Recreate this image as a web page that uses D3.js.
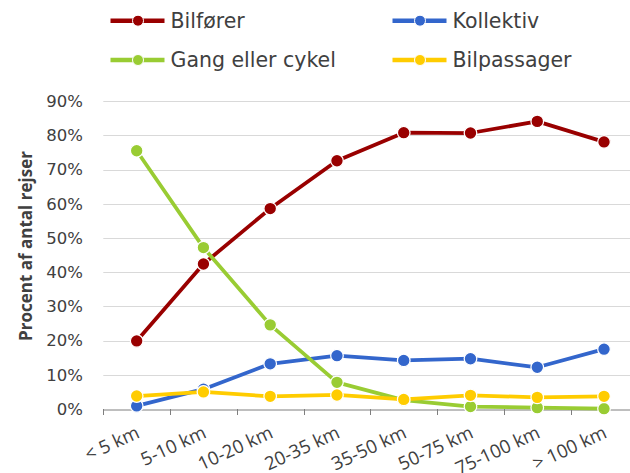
<!DOCTYPE html>
<html>
<head>
<meta charset="utf-8">
<script src="https://cdn.jsdelivr.net/npm/d3@7"></script>
<style>
  html, body { margin: 0; padding: 0; background: #fff; }
  svg { display: block; }
</style>
</head>
<body>
<script>
const categories = ["< 5 km", "5-10 km", "10-20 km", "20-35 km", "35-50 km", "50-75 km", "75-100 km", "> 100 km"];
const bilforer    = [19.9, 42.4, 58.6, 72.6, 80.8, 80.7, 84.1, 78.1];
const kollektiv   = [0.9, 5.8, 13.2, 15.6, 14.2, 14.7, 12.2, 17.5];
const gangCykel   = [75.5, 47.2, 24.6, 7.8, 2.6, 0.7, 0.4, 0.1];
const bilpassager = [3.8, 5.0, 3.7, 4.1, 2.8, 4.0, 3.4, 3.7];
const yTicks = [0, 10, 20, 30, 40, 50, 60, 70, 80, 90];
const seriesNames = ["Bilfører", "Kollektiv", "Gang eller cykel", "Bilpassager"];

const series = [
  { name: seriesNames[0], values: bilforer,    color: "#990000" },
  { name: seriesNames[1], values: kollektiv,   color: "#3366cc" },
  { name: seriesNames[2], values: gangCykel,   color: "#99cc33" },
  { name: seriesNames[3], values: bilpassager, color: "#ffcc00" }
];

const W = 630, H = 473;
const svg = d3.select("body").append("svg").attr("width", W).attr("height", H);

const x = d3.scaleBand().domain(categories).range([103.3, 637.4]).padding(0);
const y = d3.scaleLinear().domain([0, 90]).range([409, 101.2]);

// gridlines
svg.append("g").selectAll("line").data(yTicks.filter(d => d > 0)).join("line")
  .attr("x1", 103.3).attr("x2", 630)
  .attr("y1", d => Math.round(y(d)) + 0.5).attr("y2", d => Math.round(y(d)) + 0.5)
  .attr("stroke", "#d9d9d9").attr("stroke-width", 1);

// y axis labels
const yAxis = d3.axisLeft(y).tickValues(yTicks).tickFormat(d => d + "%").tickSize(0).tickPadding(0);
const gy = svg.append("g").attr("transform", "translate(83,0)").call(yAxis);
gy.select(".domain").remove();
gy.selectAll("text").attr("font-family", "DejaVu Sans").attr("font-size", 16.5).attr("fill", "#404040");

// x axis
const xAxis = d3.axisBottom(x).tickSize(0).tickFormat("");
const gx = svg.append("g").attr("transform", "translate(0,409.5)").call(xAxis);
gx.select(".domain").attr("stroke", "#7f7f7f").attr("stroke-width", 1);
gx.selectAll(".tick").remove();
const bounds = categories.map(c => x(c));
svg.append("g").selectAll("line").data(bounds).join("line")
  .attr("x1", d => Math.round(d) + 0.5).attr("x2", d => Math.round(d) + 0.5)
  .attr("y1", 409).attr("y2", 415)
  .attr("stroke", "#7f7f7f").attr("stroke-width", 1);

// x labels
svg.append("g").selectAll("text").data(categories).join("text")
  .attr("transform", d => `translate(${x(d) + x.bandwidth() / 2 + 4},437) rotate(-25)`)
  .attr("text-anchor", "end")
  .attr("font-family", "Open Sans").attr("font-size", 18.5).attr("fill", "#404040")
  .text(d => d);

// y axis title
svg.append("text")
  .attr("transform", "translate(32,246) rotate(-90)")
  .attr("text-anchor", "middle")
  .attr("font-family", "Open Sans").attr("font-weight", "bold").attr("font-size", 17).attr("fill", "#404040")
  .text("Procent af antal rejser");

// series
const line = d3.line().x((d, i) => x(categories[i]) + x.bandwidth() / 2).y(d => y(d));
series.forEach(s => {
  const g = svg.append("g");
  g.append("path").datum(s.values).attr("d", line)
    .attr("fill", "none").attr("stroke", s.color).attr("stroke-width", 3.75)
    .attr("stroke-linejoin", "round");
  g.selectAll("circle").data(s.values).join("circle")
    .attr("cx", (d, i) => x(categories[i]) + x.bandwidth() / 2)
    .attr("cy", d => y(d))
    .attr("r", 6.3).attr("fill", s.color).attr("stroke", "#fff").attr("stroke-width", 1.25);
});

// legend
const legendPos = [[110.5, 20.7], [392.5, 20.7], [110.5, 60], [392.5, 60]];
series.forEach((s, i) => {
  const [lx, ly] = legendPos[i];
  const g = svg.append("g").attr("transform", `translate(${lx},${ly})`);
  g.append("line").attr("x1", 0).attr("x2", 54).attr("y1", 0).attr("y2", 0)
    .attr("stroke", s.color).attr("stroke-width", 4.5);
  g.append("circle").attr("cx", 27.5).attr("cy", 0).attr("r", 5.5)
    .attr("fill", s.color).attr("stroke", "#fff").attr("stroke-width", 1);
  g.append("text").attr("x", 60).attr("y", 0).attr("dy", "0.36em")
    .attr("font-family", "DejaVu Sans").attr("font-size", 20.5)
    .attr("fill", "#404040")
    .text(s.name);
});
</script>
</body>
</html>
